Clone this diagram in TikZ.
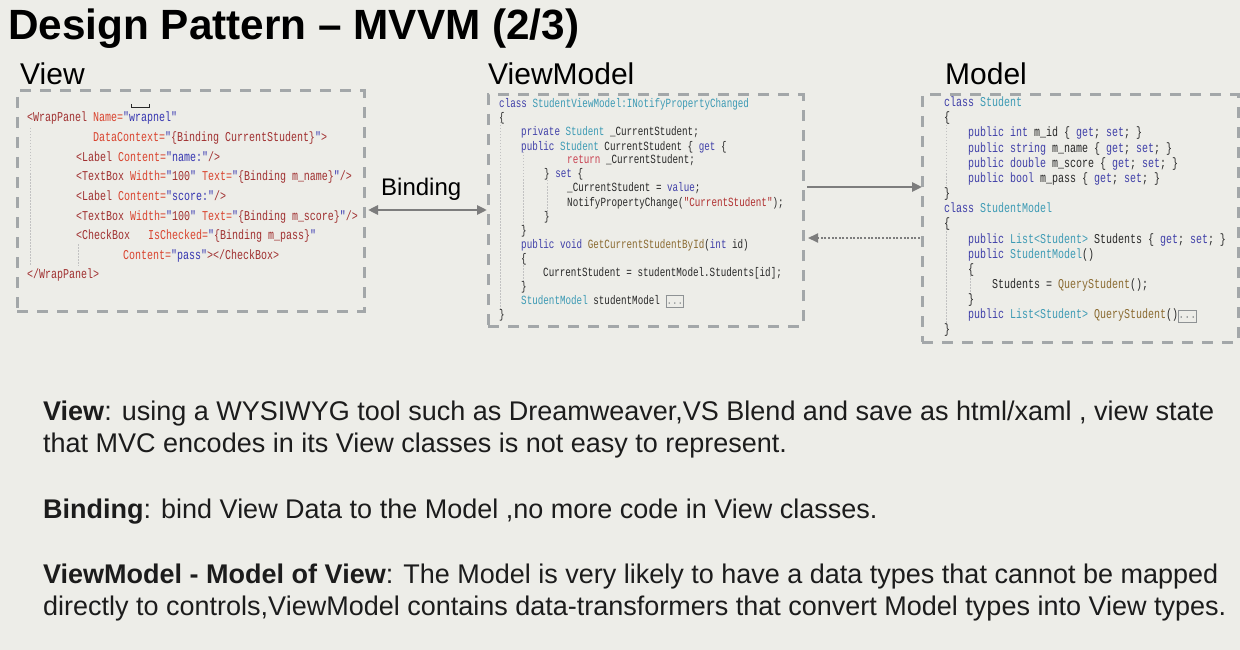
\documentclass[tikz,border=0pt]{standalone}
\usepackage{fontspec}
\setmainfont{Liberation Sans}
\newfontfamily\codefont[FakeStretch=0.74]{Liberation Mono}
\usetikzlibrary{arrows.meta}
\definecolor{bg}{HTML}{EDEDE8}
\definecolor{boxline}{HTML}{A3A7A9}
\definecolor{dotline}{HTML}{8E9294}
\definecolor{arrowc}{HTML}{7D7D7D}
\definecolor{guide}{HTML}{C2C2C2}
\definecolor{kwc}{HTML}{3F3FA8}
\definecolor{tyc}{HTML}{3C9AB4}
\definecolor{stc}{HTML}{B03030}
\definecolor{mec}{HTML}{8A6A30}
\definecolor{rtc}{HTML}{C84050}
\definecolor{plc}{HTML}{282828}
\definecolor{xtc}{HTML}{A03030}
\definecolor{xac}{HTML}{D9432E}
\definecolor{xvc}{HTML}{3535B0}
\definecolor{bodyc}{HTML}{1C1C1C}
\newcommand\ckw[1]{\textcolor{kwc}{#1}}
\newcommand\cty[1]{\textcolor{tyc}{#1}}
\newcommand\cst[1]{\textcolor{stc}{#1}}
\newcommand\cme[1]{\textcolor{mec}{#1}}
\newcommand\crt[1]{\textcolor{rtc}{#1}}
\newcommand\xt[1]{\textcolor{xtc}{#1}}
\newcommand\xa[1]{\textcolor{xac}{#1}}
\newcommand\xv[1]{\textcolor{xvc}{#1}}
\newcommand\dotbox{{\setlength\fboxsep{1pt}\setlength\fboxrule{0.8pt}\fcolorbox{dotline}{bg}{\rule[-2pt]{0pt}{9pt}\makebox[15pt]{\textcolor{dotline}{...}}}}}
\begin{document}
\begin{tikzpicture}[x=1pt,y=-1pt,
  codebox/.style={draw=boxline, line width=3pt, dash pattern=on 11pt off 9pt, inner sep=0pt, outer sep=0pt, anchor=north west},
  vline/.style={anchor=base west, inner sep=0pt, text=plc, font=\codefont\fontsize{13.5}{15}\selectfont},
  vmline/.style={anchor=base west, inner sep=0pt, text=plc, font=\codefont\fontsize{12.5}{14}\selectfont},
  mline/.style={anchor=base west, inner sep=0pt, text=plc, font=\codefont\fontsize{13.5}{15}\selectfont},
  head/.style={anchor=base west, inner sep=0pt, font=\fontsize{30}{34}\selectfont},
  body/.style={anchor=base west, inner sep=0pt, text=bodyc, font=\fontsize{27}{31}\selectfont},
  guideline/.style={draw=guide, line width=0.6pt, dash pattern=on 1.5pt off 1.5pt},
  arr/.style={draw=arrowc, line width=2.5pt},
  tip/.tip={Triangle[length=10pt,width=9pt]}
]
\useasboundingbox[fill=bg] (0,0) rectangle (1240,650);

% title and headings
\node[anchor=base west, inner sep=0pt, font=\bfseries\fontsize{42.3}{47}\selectfont] (title) at (8,40) {Design Pattern -- MVVM (2/3)};
\node[head] (hview) at (20,85) {View};
\node[head] (hvm) at (488,85) {ViewModel};
\node[head] (hmodel) at (945,85) {Model};

% boxes
\node[codebox, minimum width=347pt, minimum height=220pt] (viewbox) at (17,91) {};
\node[codebox, minimum width=315pt, minimum height=231pt] (vmbox) at (488,95) {};
\node[codebox, minimum width=316pt, minimum height=247pt] (mbox) at (922,95) {};

% guides
\draw[guideline] (30,128) -- (30,266);
\draw[guideline] (78,244) -- (78,266);
\draw[guideline] (500,122) -- (500,310);
\draw[guideline] (523,152) -- (523,228);
\draw[guideline] (547,180) -- (547,214);
\draw[guideline] (523,262) -- (523,283);
\draw[guideline] (946,122) -- (946,186);
\draw[guideline] (946,228) -- (946,325);
\draw[guideline] (970,275) -- (970,296);

% View code
\node[vline] (v1) at (27,122) {\xt{<WrapPanel} \xa{Name=}\xv{"wrapnel"}};
\draw[draw=plc, line width=0.6pt] (131,104) -- (131,107) -- (149,107) -- (149,104);
\node[vline] (v2) at (93,141.6) {\xa{DataContext=}\xv{"}\xt{\{Binding CurrentStudent\}}\xv{"}\xt{>}};
\node[vline] (v3) at (76,161.2) {\xt{<Label} \xa{Content=}\xv{"name:"}\xt{/>}};
\node[vline] (v4) at (76,180.8) {\xt{<TextBox} \xa{Width=}\xv{"}\xt{100}\xv{"} \xa{Text=}\xv{"}\xt{\{Binding m\_name\}}\xv{"}\xt{/>}};
\node[vline] (v5) at (76,200.4) {\xt{<Label} \xa{Content=}\xv{"score:"}\xt{/>}};
\node[vline] (v6) at (76,220) {\xt{<TextBox} \xa{Width=}\xv{"}\xt{100}\xv{"} \xa{Text=}\xv{"}\xt{\{Binding m\_score\}}\xv{"}\xt{/>}};
\node[vline] (v7) at (76,239.6) {\xt{<CheckBox}\hspace{18pt}\xa{IsChecked=}\xv{"}\xt{\{Binding m\_pass\}}\xv{"}};
\node[vline] (v8) at (123,259.2) {\xa{Content=}\xv{"pass"}\xt{></CheckBox>}};
\node[vline] (v9) at (27,278.8) {\xt{</WrapPanel>}};

% ViewModel code
\node[vmline] (m1) at (499,108) {\ckw{class} \cty{StudentViewModel:INotifyPropertyChanged}};
\node[vmline] (m2) at (499,122) {\{};
\node[vmline] (m3) at (521,136) {\ckw{private} \cty{Student} \_CurrentStudent;};
\node[vmline] (m4) at (521,150) {\ckw{public} \cty{Student} CurrentStudent \{ \ckw{get} \{};
\node[vmline] (m5) at (567,164) {\crt{return} \_CurrentStudent;};
\node[vmline] (m6) at (544,178) {\} \ckw{set} \{};
\node[vmline] (m7) at (567,192) {\_CurrentStudent = \ckw{value};};
\node[vmline] (m8) at (567,206) {NotifyPropertyChange(\cst{"CurrentStudent"});};
\node[vmline] (m9) at (544,220) {\}};
\node[vmline] (m10) at (521,234) {\}};
\node[vmline] (m11) at (521,248) {\ckw{public} \ckw{void} \cme{GetCurrentStudentById}(\ckw{int} id)};
\node[vmline] (m12) at (521,262) {\{};
\node[vmline] (m13) at (543,276) {CurrentStudent = studentModel.Students[id];};
\node[vmline] (m14) at (521,290) {\}};
\node[vmline] (m15) at (521,304) {\cty{StudentModel} studentModel \dotbox};
\node[vmline] (m16) at (499,318) {\}};

% Model code
\node[mline] (d1) at (944,106.7) {\ckw{class} \cty{Student}};
\node[mline] (d2) at (944,121.85) {\{};
\node[mline] (d3) at (968,137) {\ckw{public} \ckw{int} m\_id \{ \ckw{get}; \ckw{set}; \}};
\node[mline] (d4) at (968,152.15) {\ckw{public} \ckw{string} m\_name \{ \ckw{get}; \ckw{set}; \}};
\node[mline] (d5) at (968,167.3) {\ckw{public} \ckw{double} m\_score \{ \ckw{get}; \ckw{set}; \}};
\node[mline] (d6) at (968,182.45) {\ckw{public} \ckw{bool} m\_pass \{ \ckw{get}; \ckw{set}; \}};
\node[mline] (d7) at (944,197.6) {\}};
\node[mline] (d8) at (944,212.75) {\ckw{class} \cty{StudentModel}};
\node[mline] (d9) at (944,227.9) {\{};
\node[mline] (d10) at (968,243.05) {\ckw{public} \cty{List<Student>} Students \{ \ckw{get}; \ckw{set}; \}};
\node[mline] (d11) at (968,258.2) {\ckw{public} \cty{StudentModel}()};
\node[mline] (d12) at (968,273.35) {\{};
\node[mline] (d13) at (992,288.5) {Students = \cme{QueryStudent}();};
\node[mline] (d14) at (968,303.65) {\}};
\node[mline] (d15) at (968,318.8) {\ckw{public} \cty{List<Student>} \cme{QueryStudent}()\dotbox};
\node[mline] (d16) at (944,333.95) {\}};

% connectors
\node[anchor=base west, inner sep=0pt, font=\fontsize{24}{28}\selectfont] (blabel) at (381,196) {Binding};
\coordinate (by) at (0,210);
\coordinate (ay1) at (0,187);
\coordinate (ay2) at (0,238);
\draw[arr, {tip}-{tip}, shorten <=4pt, shorten >=1pt] (viewbox.east |- by) -- (vmbox.west |- by);
\draw[arr, -{tip}, shorten <=4pt] (vmbox.east |- ay1) -- (mbox.west |- ay1);
\draw[arr, -{tip}, line width=2.2pt, dash pattern=on 2pt off 1.6pt, shorten <=2pt, shorten >=5pt] (mbox.west |- ay2) -- (vmbox.east |- ay2);

% body text
\node[body] (t1) at (43,420) {\textbf{View}: using a WYSIWYG tool such as Dreamweaver,VS Blend and save as html/xaml , view state};
\node[body] (t2) at (43,452) {that MVC encodes in its View classes is not easy to represent.};
\node[body] (t3) at (43,518) {\textbf{Binding}: bind View Data to the Model ,no more code in View classes.};
\node[body] (t4) at (43,583) {\textbf{ViewModel - Model of View}: The Model is very likely to have a data types that cannot be mapped};
\node[body] (t5) at (43,615) {directly to controls,ViewModel contains data-transformers that convert Model types into View types.};
\end{tikzpicture}
\end{document}
